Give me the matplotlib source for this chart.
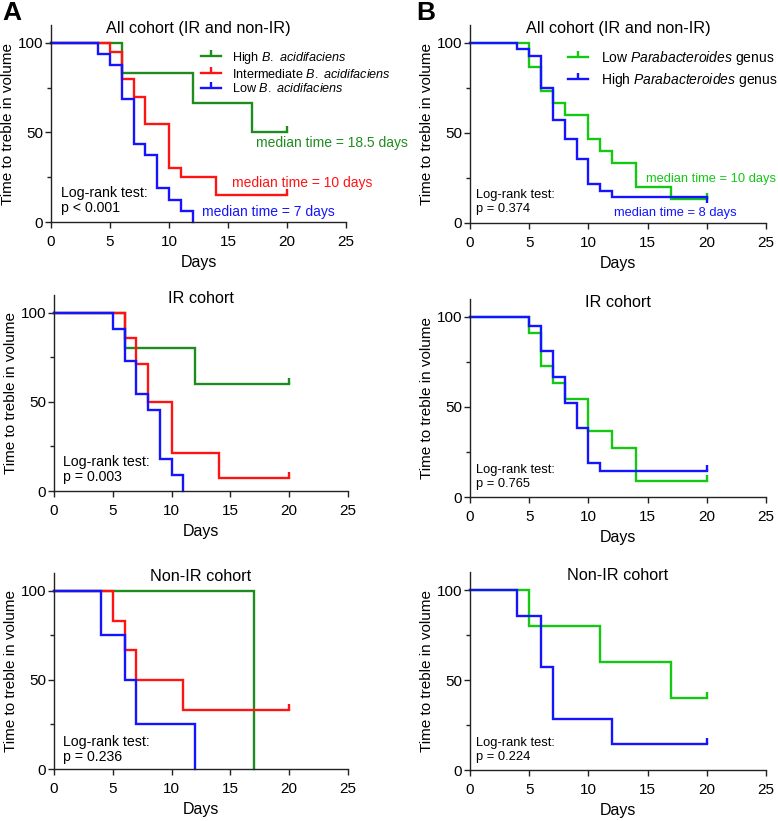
import matplotlib
matplotlib.use("Agg")
import matplotlib.pyplot as plt
from matplotlib.lines import Line2D
from matplotlib.ticker import MultipleLocator

plt.rcParams["font.family"] = ["Liberation Sans", "DejaVu Sans"]
plt.rcParams["mathtext.fontset"] = "custom"
plt.rcParams["mathtext.rm"] = "Liberation Sans"
plt.rcParams["mathtext.it"] = "Liberation Sans:italic"

W, H = 778, 821
GREEN_A = "#1e8c1e"
GREEN_B = "#14c814"
RED = "#ff1414"
BLUE = "#1414ff"

# ── Kaplan-Meier curves (time in days, % not yet trebled) ─────────────────────
# Panel A, all cohort
a_all_high_t = [0, 6, 12, 17, 20]
a_all_high_s = [100, 83.3, 66.7, 50.0, 50.0]
a_all_int_t = [0, 5, 6, 7, 8, 10, 11, 14, 20]
a_all_int_s = [100, 95, 80, 70, 55, 30, 25, 15, 15]
a_all_low_t = [0, 4, 5, 6, 7, 8, 9, 10, 11, 12]
a_all_low_s = [100, 93.75, 87.5, 68.75, 43.75, 37.5, 18.75, 12.5, 6.25, 0]

# Panel A, IR cohort
a_ir_high_t = [0, 6, 12, 20]
a_ir_high_s = [100, 80, 60, 60]
a_ir_int_t = [0, 6, 7, 8, 10, 14, 20]
a_ir_int_s = [100, 85.7, 71.4, 50.0, 21.4, 7.1, 7.1]
a_ir_low_t = [0, 5, 6, 7, 8, 9, 10, 11]
a_ir_low_s = [100, 90.9, 72.7, 54.5, 45.5, 18.2, 9.1, 0]

# Panel A, non-IR cohort
a_non_high_t = [0, 17]
a_non_high_s = [100, 0]
a_non_int_t = [0, 5, 6, 7, 11, 20]
a_non_int_s = [100, 83.3, 66.7, 50.0, 33.3, 33.3]
a_non_low_t = [0, 4, 6, 7, 12]
a_non_low_s = [100, 75, 50, 25, 0]

# Panel B, all cohort
b_all_low_t = [0, 5, 6, 7, 8, 10, 11, 12, 14, 17, 20]
b_all_low_s = [100, 86.7, 73.3, 66.7, 60.0, 46.7, 40.0, 33.3, 20.0, 13.3, 13.3]
b_all_high_t = [0, 4, 5, 6, 7, 8, 9, 10, 11, 12, 20]
b_all_high_s = [100, 96.4, 92.9, 75.0, 57.1, 46.4, 35.7, 21.4, 17.9, 14.3, 14.3]

# Panel B, IR cohort
b_ir_low_t = [0, 5, 6, 7, 8, 10, 12, 14, 20]
b_ir_low_s = [100, 90.9, 72.7, 63.6, 54.5, 36.4, 27.3, 9.1, 9.1]
b_ir_high_t = [0, 5, 6, 7, 8, 9, 10, 11, 20]
b_ir_high_s = [100, 95.2, 81.0, 66.7, 52.4, 38.1, 19.0, 14.3, 14.3]

# Panel B, non-IR cohort
b_non_low_t = [0, 5, 11, 17, 20]
b_non_low_s = [100, 80, 60, 40, 40]
b_non_high_t = [0, 4, 6, 7, 12, 20]
b_non_high_s = [100, 85.7, 57.1, 28.6, 14.3, 14.3]

a_labels = [r"High $\it{B.\ acidifaciens}$",
            r"Intermediate $\it{B.\ acidifaciens}$",
            r"Low $\it{B.\ acidifaciens}$"]
b_labels = [r"Low $\it{Parabacteroides}$ genus",
            r"High $\it{Parabacteroides}$ genus"]

titles = ["All cohort (IR and non-IR)", "IR cohort", "Non-IR cohort"]
a_pvals = ["p < 0.001", "p = 0.003", "p = 0.236"]
b_pvals = ["p = 0.374", "p = 0.765", "p = 0.224"]


def axes_px(l, r, t, b):
    return fig.add_axes([l / W, 1 - b / H, (r - l) / W, (b - t) / H])


def style(ax, title):
    ax.set_xlim(0, 25)
    ax.set_ylim(0, 110)
    for s in ("top", "right"):
        ax.spines[s].set_visible(False)
    for s in ("left", "bottom"):
        ax.spines[s].set_linewidth(1.0)
        ax.spines[s].set_color("#222222")
    ax.spines["left"].set_bounds(0, 110)
    ax.set_xticks([0, 5, 10, 15, 20, 25])
    ax.set_yticks([0, 50, 100])
    ax.yaxis.set_minor_locator(MultipleLocator(25))
    ax.tick_params(axis="both", which="major", labelsize=11, length=4.5,
                   width=1.0, color="#222222")
    ax.tick_params(axis="x", pad=5)
    ax.tick_params(axis="y", pad=1)
    ax.tick_params(axis="y", which="minor", length=3, width=1.0, color="#222222")
    ax.set_xlabel("Days", fontsize=11.5, labelpad=4)
    ax.set_ylabel("Time to treble in volume", fontsize=11, labelpad=2)
    ax.text(0.5, 0.98, title, transform=ax.transAxes, ha="center",
            va="center", fontsize=11.7)


def km(ax, t, s, color, tick=2, censored=True):
    ax.plot(t, s, drawstyle="steps-post", color=color, lw=1.7,
            solid_joinstyle="miter", clip_on=False)
    if censored:
        ax.plot([t[-1]], [s[-1]], marker=tick, ms=4, mew=1.7, color=color,
                clip_on=False)


fig = plt.figure(figsize=(W / 100, H / 100), dpi=100)

# ── Column A ──────────────────────────────────────────────────────────────────
ax1 = axes_px(51, 346, 25, 222)
ax2 = axes_px(54, 348, 295, 491)
ax3 = axes_px(54, 348, 573, 769)

km(ax1, a_all_high_t, a_all_high_s, GREEN_A)
km(ax1, a_all_int_t, a_all_int_s, RED)
km(ax1, a_all_low_t, a_all_low_s, BLUE, censored=False)

km(ax2, a_ir_high_t, a_ir_high_s, GREEN_A)
km(ax2, a_ir_int_t, a_ir_int_s, RED)
km(ax2, a_ir_low_t, a_ir_low_s, BLUE, censored=False)

km(ax3, a_non_high_t, a_non_high_s, GREEN_A, censored=False)
km(ax3, a_non_int_t, a_non_int_s, RED)
km(ax3, a_non_low_t, a_non_low_s, BLUE, censored=False)

for ax, title, p, x, y in zip((ax1, ax2, ax3), titles, a_pvals,
                              (0.85, 0.77, 0.77), (12.0, 12.1, 10.9)):
    style(ax, title)
    ax.text(x, y, "Log-rank test:\n" + p, fontsize=10.2, va="center",
            ha="left", linespacing=1.15)

ax1.text(17.4, 44, "median time = 18.5 days", color=GREEN_A, fontsize=10,
         va="center", clip_on=False)
ax1.text(15.3, 22, "median time = 10 days", color=RED, fontsize=10, va="center")
ax1.text(12.8, 5.6, "median time = 7 days", color=BLUE, fontsize=10, va="center")

handles_a = [Line2D([], [], color=c, lw=1.7, marker=2, ms=4, mew=1.7)
             for c in (GREEN_A, RED, BLUE)]
ax1.legend(handles_a, a_labels, loc="upper left", bbox_to_anchor=(0.508, 0.875),
           frameon=False, fontsize=9.1, handlelength=1.6, handletextpad=0.9,
           labelspacing=0.15, borderpad=0, borderaxespad=0, numpoints=1)

# ── Column B ──────────────────────────────────────────────────────────────────
bx1 = axes_px(470, 766, 25, 223)
bx2 = axes_px(470, 766, 299, 497)
bx3 = axes_px(470, 766, 572, 770)

km(bx1, b_all_low_t, b_all_low_s, GREEN_B)
km(bx1, b_all_high_t, b_all_high_s, BLUE, tick=3)

km(bx2, b_ir_low_t, b_ir_low_s, GREEN_B)
km(bx2, b_ir_high_t, b_ir_high_s, BLUE)

km(bx3, b_non_low_t, b_non_low_s, GREEN_B)
km(bx3, b_non_high_t, b_non_high_s, BLUE)

for ax, title, p, y in zip((bx1, bx2, bx3), titles, b_pvals, (11.7, 10.9, 11.2)):
    style(ax, title)
    ax.text(0.5, y, "Log-rank test:\n" + p, fontsize=9.3, va="center",
            ha="left", linespacing=1.2)

bx1.text(14.9, 24.6, "median time = 10 days", color=GREEN_B, fontsize=9.3,
         va="center")
bx1.text(12.2, 5.6, "median time = 8 days", color=BLUE, fontsize=9.3, va="center")

handles_b = [Line2D([], [], color=c, lw=1.7, marker=2, ms=4, mew=1.7)
             for c in (GREEN_B, BLUE)]
bx1.legend(handles_b, b_labels, loc="upper left", bbox_to_anchor=(0.33, 0.88),
           frameon=False, fontsize=10, handlelength=1.45, handletextpad=0.95,
           labelspacing=0.3, borderpad=0, borderaxespad=0, numpoints=1)

fig.text(2 / W, 1 - 1 / H, "A", fontsize=19, fontweight="bold", va="top", ha="left")
fig.text(416 / W, 1 - 1 / H, "B", fontsize=19, fontweight="bold", va="top", ha="left")

fig.savefig("out.png", dpi=100, facecolor="white")
